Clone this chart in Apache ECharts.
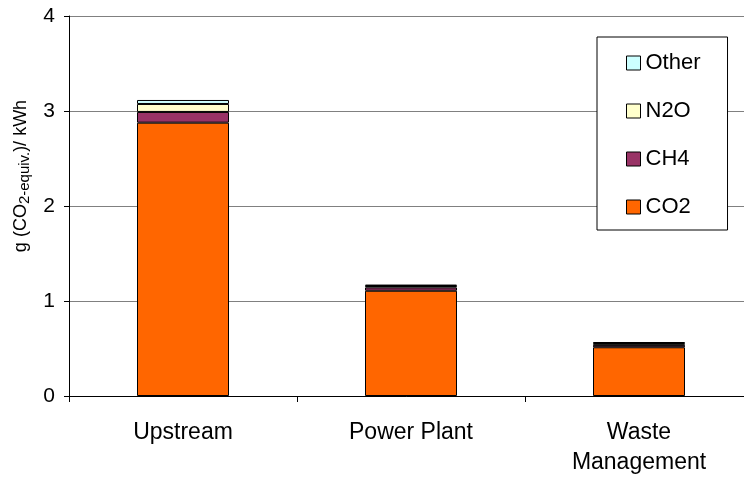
<!DOCTYPE html>
<html>
<head>
<meta charset="utf-8">
<script src="https://cdn.jsdelivr.net/npm/echarts@6/dist/echarts.min.js"></script>
<style>html,body{margin:0;padding:0;background:#fff;}#chart{width:744px;height:477px;}</style>
</head>
<body>
<div id="chart"></div>
<script>
var categories = ['Upstream', 'Power Plant', 'Waste\nManagement'];
var co2 = [2.877, 1.108, 0.513];
var ch4 = [0.113, 0.035, 0.025];
var n2o = [0.084, 0.015, 0.02];
var other = [0.042, 0.015, 0.01];
var yTicks = [0, 1, 2, 3, 4];
var legendOrder = ['Other', 'N2O', 'CH4', 'CO2'];

var FONT = '"Liberation Sans", Arial, sans-serif';
var chart = echarts.init(document.getElementById('chart'), null, {renderer: 'canvas'});

function bar(name, data, color) {
  return {
    name: name, type: 'bar', stack: 'total', data: data, barWidth: 92,
    itemStyle: {color: color, borderColor: '#000', borderWidth: 1},
    emphasis: {disabled: true}
  };
}

chart.setOption({
  animation: false,
  textStyle: {fontFamily: FONT},
  grid: {left: 69, width: 684, top: 16, bottom: 81, outerBoundsMode: 'none', containLabel: false},
  legend: {
    data: legendOrder,
    orient: 'vertical',
    left: 597, top: 37,
    padding: [15, 27, 12, 29],
    itemGap: 26,
    itemWidth: 14, itemHeight: 14,
    icon: 'rect',
    borderColor: '#000', borderWidth: 1,
    backgroundColor: '#fff',
    textStyle: {fontSize: 22, color: '#000', fontFamily: FONT, lineHeight: 21},
    itemStyle: {borderColor: '#000', borderWidth: 1}
  },
  xAxis: {
    type: 'category',
    data: categories,
    axisLine: {lineStyle: {color: '#000', width: 1}},
    axisTick: {show: true, alignWithLabel: false, length: 6, lineStyle: {color: '#000'}},
    axisLabel: {fontSize: 23, color: '#000', fontFamily: FONT, lineHeight: 30, margin: 22, interval: 0}
  },
  yAxis: {
    type: 'value',
    min: yTicks[0], max: yTicks[yTicks.length - 1], interval: 1,
    axisLine: {show: true, lineStyle: {color: '#000', width: 1}},
    axisTick: {show: true, length: 5, lineStyle: {color: '#000'}},
    axisLabel: {fontSize: 21, color: '#000', fontFamily: FONT, margin: 14},
    splitLine: {show: true, lineStyle: {color: '#808080', width: 1}},
    name: '{a|g (CO}{s|2-equiv.}{a|)/ kWh}',
    nameLocation: 'middle',
    nameRotate: 90,
    nameGap: 26,
    nameTextStyle: {
      padding: [0, 0, 0, 60],
      rich: {
        a: {fontSize: 18, color: '#000', fontFamily: FONT, lineHeight: 22},
        s: {fontSize: 15, color: '#000', fontFamily: FONT, lineHeight: 15, verticalAlign: 'bottom'}
      }
    }
  },
  series: [
    bar('CO2', co2, '#FF6600'),
    bar('CH4', ch4, '#993366'),
    bar('N2O', n2o, '#FFFFCC'),
    bar('Other', other, '#CCFFFF')
  ]
});
</script>
</body>
</html>
